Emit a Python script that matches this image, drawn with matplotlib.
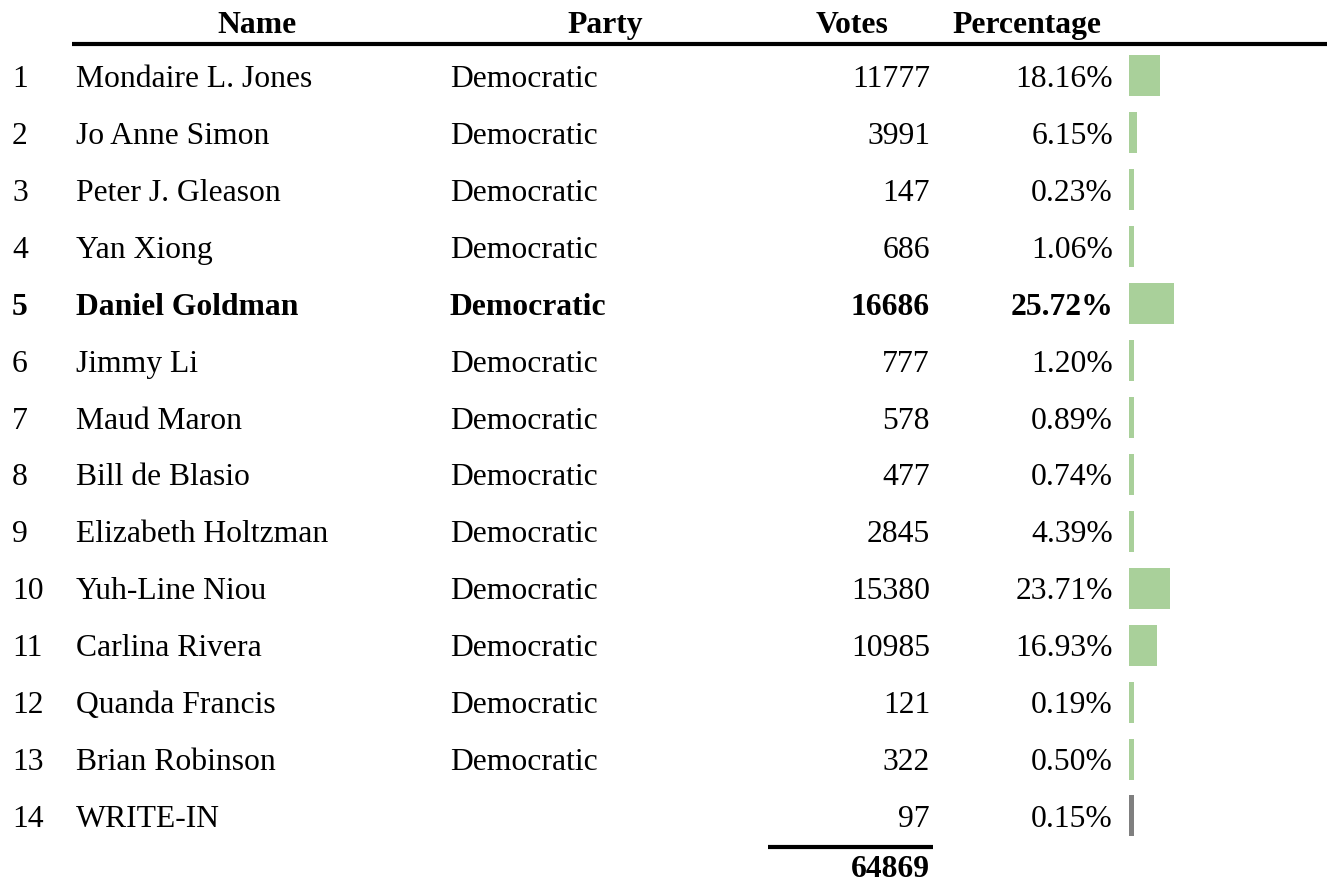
import matplotlib
matplotlib.use('Agg')
import matplotlib.pyplot as plt

plt.rcParams['font.family'] = ['Liberation Serif', 'DejaVu Serif']

# table data
names = ['Mondaire L. Jones', 'Jo Anne Simon', 'Peter J. Gleason', 'Yan Xiong',
         'Daniel Goldman', 'Jimmy Li', 'Maud Maron', 'Bill de Blasio',
         'Elizabeth Holtzman', 'Yuh-Line Niou', 'Carlina Rivera',
         'Quanda Francis', 'Brian Robinson', 'WRITE-IN']
parties = ['Democratic'] * 13 + ['']
votes = [11777, 3991, 147, 686, 16686, 777, 578, 477, 2845, 15380, 10985, 121, 322, 97]
percents = [18.16, 6.15, 0.23, 1.06, 25.72, 1.20, 0.89, 0.74, 4.39, 23.71, 16.93, 0.19, 0.50, 0.15]
winner = 'Daniel Goldman'
total = 64869

fig = plt.figure(figsize=(13.27, 8.82), dpi=100)
ax = fig.add_axes([0, 0, 1, 1])
ax.set_xlim(0, 1327)
ax.set_ylim(15.16, -0.335)
ax.axis('off')

fs = 22.8
green = '#a9d09a'
gray = '#7f7f7f'
base = 0.193  # baseline offset below row centre

# header
hy = 0.245
ax.text(257, hy, 'Name', ha='center', va='baseline', fontsize=fs, fontweight='bold')
ax.text(605, hy, 'Party', ha='center', va='baseline', fontsize=fs, fontweight='bold')
ax.text(852, hy, 'Votes', ha='center', va='baseline', fontsize=fs, fontweight='bold')
ax.text(1027, hy, 'Percentage', ha='center', va='baseline', fontsize=fs, fontweight='bold')
ax.plot([72, 1327], [0.43, 0.43], color='black', lw=3, solid_capstyle='butt')

for i, (n, p, v, pc) in enumerate(zip(names, parties, votes, percents)):
    y = i + 1
    w = 'bold' if n == winner else 'normal'
    ax.text(12, y + base, str(y), ha='left', va='baseline', fontsize=fs, fontweight=w)
    ax.text(76, y + base, n, ha='left', va='baseline', fontsize=fs, fontweight=w)
    ax.text(450, y + base, p, ha='left', va='baseline', fontsize=fs, fontweight=w)
    ax.text(930, y + base, str(v), ha='right', va='baseline', fontsize=fs, fontweight=w)
    ax.text(1113, y + base, '%.2f%%' % pc, ha='right', va='baseline', fontsize=fs, fontweight=w)
    c = gray if n == 'WRITE-IN' else green
    ax.barh(y, max(pc * 1.85 - 3, 4.5), left=1129, height=0.72, color=c)

# total
ax.plot([768, 933], [14.545, 14.545], color='black', lw=3, solid_capstyle='butt')
ax.text(930, 15.07, str(total), ha='right', va='baseline', fontsize=fs, fontweight='bold')

fig.savefig('out.png', dpi=100, facecolor='white')
